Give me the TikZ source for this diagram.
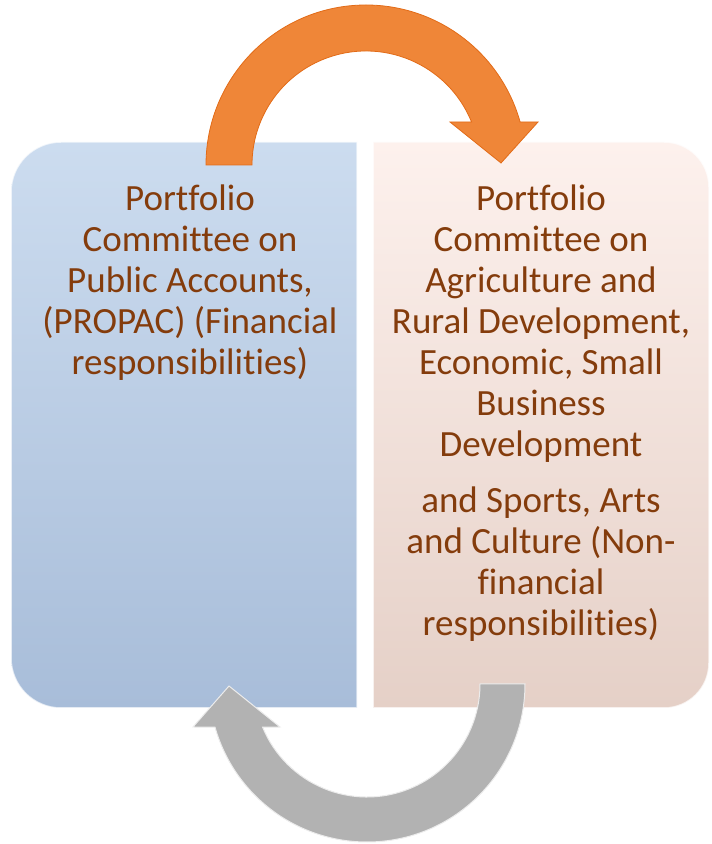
\documentclass[tikz,border=0pt]{standalone}
\usepackage{fontspec}
\setmainfont{Carlito}[Ligatures=NoCommon]
\usetikzlibrary{calc}
\usetikzlibrary{positioning}
\definecolor{boxtext}{HTML}{843C0C}
\definecolor{bluetop}{HTML}{CCDCEF}
\definecolor{bluebot}{HTML}{A8BDD9}
\definecolor{pinktop}{HTML}{FDF1ED}
\definecolor{pinkbot}{HTML}{E5D0C7}
\definecolor{myorange}{HTML}{EF8638}
\definecolor{myorangedark}{HTML}{E26B17}
\definecolor{mygray}{HTML}{B2B2B2}

\begin{document}
\begin{tikzpicture}[%
  x=1pt, y=1pt,
  committee/.style={align=center, text=boxtext, inner sep=0pt,
    font=\fontsize{37}{41}\selectfont},
  panel/.style={draw=white, draw opacity=0.7, line width=1.5pt},
  uparrow/.style={fill=myorange, draw=myorangedark, line width=0.8pt},
  downarrow/.style={fill=mygray, draw=white!85!gray, line width=1pt},
]

  \useasboundingbox (0,0) rectangle (712,844);

  \coordinate (topc) at (366,679);
  \coordinate (botc) at (367,160);

  % the two panels
  \path[panel, top color=bluetop, bottom color=bluebot]
    (357,702) -- (61,702) arc[start angle=90, end angle=180, radius=50]
    -- (11,186) arc[start angle=180, end angle=270, radius=50]
    -- (357,136) -- cycle;
  \path[panel, top color=pinktop, bottom color=pinkbot]
    (373,702) -- (664,702) arc[start angle=90, end angle=0, radius=45]
    -- (709,181) arc[start angle=0, end angle=-90, radius=45]
    -- (373,136) -- cycle;

  % base = last line
  \node[committee, anchor=base] (propac) at (190,469)
    {Portfolio\\ Committee on\\ Public Accounts,\\ (PROPAC) (Financial\\ responsibilities)};
  \node[committee, anchor=base] (agric) at (541,208)
    {Portfolio\\ Committee on\\ Agriculture and\\ Rural Development,\\ Economic, Small\\ Business\\ Development\\[15pt]
     and Sports, Arts\\ and Culture (Non-\\ financial\\ responsibilities)};

  % curved arrows
  \filldraw[uparrow] (topc) ++(180:160) arc[start angle=180, end angle=15.6, radius=160]
    -- ([shift={(172,43)}]topc) -- ([shift={(135,2)}]topc) -- ([shift={(84,43)}]topc)
    -- ([shift={(22.2:114)}]topc) arc[start angle=22.2, end angle=180, radius=114] -- cycle;
  \filldraw[downarrow] (botc) ++(0:158) arc[start angle=0, end angle=-164.2, radius=158]
    -- ([shift={(-174,-43)}]botc) -- ([shift={(-138,-2)}]botc) -- ([shift={(-87,-43)}]botc)
    -- ([shift={(-157.6:113)}]botc) arc[start angle=-157.6, end angle=0, radius=113] -- cycle;

\end{tikzpicture}
\end{document}
